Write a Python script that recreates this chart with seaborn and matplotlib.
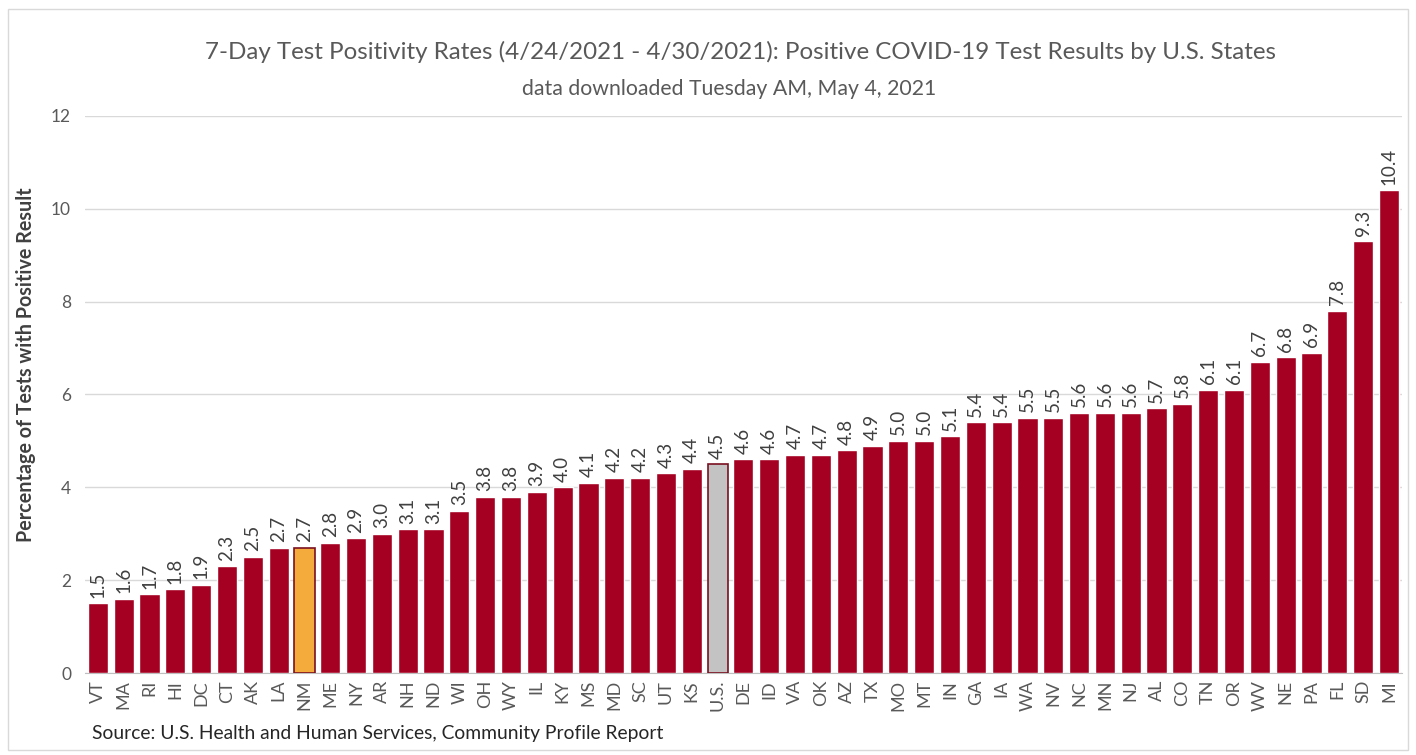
import numpy as np
import pandas as pd
import matplotlib
matplotlib.use("Agg")
import matplotlib.pyplot as plt
import seaborn as sns

# Data
states = ["VT", "MA", "RI", "HI", "DC", "CT", "AK", "LA", "NM", "ME", "NY", "AR", "NH",
          "ND", "WI", "OH", "WY", "IL", "KY", "MS", "MD", "SC", "UT", "KS", "U.S.", "DE",
          "ID", "VA", "OK", "AZ", "TX", "MO", "MT", "IN", "GA", "IA", "WA", "NV", "NC",
          "MN", "NJ", "AL", "CO", "TN", "OR", "WV", "NE", "PA", "FL", "SD", "MI"]
positivity = [1.5, 1.6, 1.7, 1.8, 1.9, 2.3, 2.5, 2.7, 2.7, 2.8, 2.9, 3.0, 3.1,
              3.1, 3.5, 3.8, 3.8, 3.9, 4.0, 4.1, 4.2, 4.2, 4.3, 4.4, 4.5, 4.6,
              4.6, 4.7, 4.7, 4.8, 4.9, 5.0, 5.0, 5.1, 5.4, 5.4, 5.5, 5.5, 5.6,
              5.6, 5.6, 5.7, 5.8, 6.1, 6.1, 6.7, 6.8, 6.9, 7.8, 9.3, 10.4]
highlight_state = "NM"
national = "U.S."

df = pd.DataFrame({"state": states, "rate": positivity})

sns.set_style("white")
plt.rcParams["font.family"] = ["Lato", "DejaVu Sans"]

bar_red = "#A50021"
palette = {s: bar_red for s in states}
palette[highlight_state] = "#F5AA3C"
palette[national] = "#C3C3C3"

fig = plt.figure(figsize=(14.16, 7.55), dpi=100)
ax = fig.add_axes([0.060, 0.1086, 0.930, 0.7378])

sns.barplot(data=df, x="state", y="rate", hue="state", palette=palette,
            legend=False, width=0.78, saturation=1, ax=ax, zorder=3)

# edges for the highlighted bars
for patch, s in zip(ax.patches, states):
    if s in (highlight_state, national):
        patch.set_edgecolor("#7A1020")
        patch.set_linewidth(1.2)

for cont in ax.containers:
    ax.bar_label(cont, fmt="%.1f", rotation=90, padding=4, fontsize=13.5, color="#404040")

ax.set_ylim(0, 12)
ax.set_yticks(np.arange(0, 13, 2))
ax.set_xlim(-0.5, len(states) - 0.5)
ax.yaxis.grid(True, color="#D9D9D9", linewidth=1, zorder=0)
ax.set_axisbelow(True)
for sp in ["top", "right", "left"]:
    ax.spines[sp].set_visible(False)
ax.spines["bottom"].set_color("#BFBFBF")
ax.tick_params(axis="x", rotation=90, labelsize=13, labelcolor="#595959", length=0, pad=5)
ax.tick_params(axis="y", labelsize=12.5, labelcolor="#595959", length=0, pad=10)
ax.set_xlabel("")
ax.set_ylabel("Percentage of Tests with Positive Result", fontsize=14.2, fontweight="bold",
              color="#404040")
ax.yaxis.set_label_coords(-0.037, 0.553)

fig.text(0.523, 0.931, "7-Day Test Positivity Rates (4/24/2021 - 4/30/2021): Positive COVID-19 Test Results by U.S. States",
         ha="center", va="center", fontsize=17.4, color="#595959")
fig.text(0.515, 0.882, "data downloaded Tuesday AM, May 4, 2021",
         ha="center", va="center", fontsize=15.3, color="#595959")
fig.text(0.065, 0.029, "Source: U.S. Health and Human Services, Community Profile Report",
         ha="left", va="center", fontsize=13.9, color="#262626")

# light frame around the chart
fig.add_artist(plt.Rectangle((0.006, 0.006), 0.988, 0.982, transform=fig.transFigure,
                             fill=False, edgecolor="#D9D9D9", linewidth=1))

fig.savefig("out.png", dpi=100)
